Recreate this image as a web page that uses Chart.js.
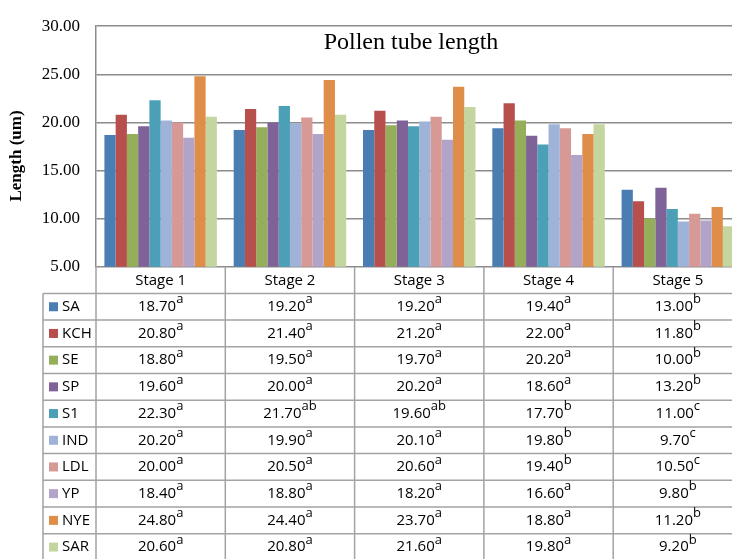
<!DOCTYPE html>
<html lang="en">
  <head>
    <meta charset="UTF-8" />
    <title>Pollen tube length</title>
    <script src="https://cdn.jsdelivr.net/npm/chart.js"></script>
    <style>
      body {
        margin: 0;
        background: #ffffff;
        overflow: hidden;
      }
      .chart-container {
        position: absolute;
        left: 0;
        top: 0;
        width: 760px;
        height: 559px;
      }
    </style>
  </head>
  <body>
    <div class="chart-container">
      <canvas id="pollenChart"></canvas>
    </div>

    <script>
      const stages = ["Stage 1", "Stage 2", "Stage 3", "Stage 4", "Stage 5"];
      const yTicks = [5, 10, 15, 20, 25, 30];

      const SA = [18.7, 19.2, 19.2, 19.4, 13.0];
      const KCH = [20.8, 21.4, 21.2, 22.0, 11.8];
      const SE = [18.8, 19.5, 19.7, 20.2, 10.0];
      const SP = [19.6, 20.0, 20.2, 18.6, 13.2];
      const S1 = [22.3, 21.7, 19.6, 17.7, 11.0];
      const IND = [20.2, 19.9, 20.1, 19.8, 9.7];
      const LDL = [20.0, 20.5, 20.6, 19.4, 10.5];
      const YP = [18.4, 18.8, 18.2, 16.6, 9.8];
      const NYE = [24.8, 24.4, 23.7, 18.8, 11.2];
      const SAR = [20.6, 20.8, 21.6, 19.8, 9.2];

      // significance letters shown as superscripts in the table
      const letSA = ["a", "a", "a", "a", "b"];
      const letKCH = ["a", "a", "a", "a", "b"];
      const letSE = ["a", "a", "a", "a", "b"];
      const letSP = ["a", "a", "a", "a", "b"];
      const letS1 = ["a", "ab", "ab", "b", "c"];
      const letIND = ["a", "a", "a", "b", "c"];
      const letLDL = ["a", "a", "a", "b", "c"];
      const letYP = ["a", "a", "a", "a", "b"];
      const letNYE = ["a", "a", "a", "a", "b"];
      const letSAR = ["a", "a", "a", "a", "b"];

      const seriesNames = ["SA", "KCH", "SE", "SP", "S1", "IND", "LDL", "YP", "NYE", "SAR"];
      const seriesValues = [SA, KCH, SE, SP, S1, IND, LDL, YP, NYE, SAR];
      const seriesLetters = [letSA, letKCH, letSE, letSP, letS1, letIND, letLDL, letYP, letNYE, letSAR];
      const colors = [
        "#4a7eb3", "#b7504d", "#94ae5a", "#7e6298", "#4ba0b8",
        "#9eb3d7", "#d79996", "#b2a4c8", "#de8e48", "#c4d6a0",
      ];

      const tableFont = "15px 'Open Sans', sans-serif";
      const supFont = "13px 'Open Sans', sans-serif";
      const lineColor = "#a3a3a3";
      const rowH = 26.7;

      // title drawn over the plot area, like the original
      const overlayText = {
        id: "overlayText",
        afterDraw(chart) {
          const c = chart.ctx;
          c.save();
          c.fillStyle = "#000";
          c.font = "24px 'Liberation Serif', serif";
          c.textAlign = "center";
          c.textBaseline = "alphabetic";
          c.fillText("Pollen tube length", 411, 49);

          c.translate(17, 156);
          c.rotate(-Math.PI / 2);
          c.font = "bold 17px 'Liberation Serif', serif";
          c.textBaseline = "middle";
          c.fillText("Length (um)", 0, 0);
          c.restore();
        },
      };

      // data table under the category axis
      const dataTable = {
        id: "dataTable",
        afterDraw(chart) {
          const c = chart.ctx;
          const x = chart.scales.x;
          const area = chart.chartArea;
          const colW = (area.right - area.left) / stages.length;
          const top = area.bottom;
          const headBottom = top + rowH;
          const H = chart.height;

          c.save();
          c.strokeStyle = lineColor;
          c.lineWidth = 1.5;

          // vertical lines
          c.beginPath();
          for (let k = 0; k <= stages.length; k++) {
            const lx = area.left + k * colW;
            c.moveTo(lx, top);
            c.lineTo(lx, H);
          }
          c.moveTo(43, headBottom);
          c.lineTo(43, H);
          // horizontal lines
          for (let i = 0; i <= seriesNames.length; i++) {
            const ly = headBottom + i * rowH;
            c.moveTo(43, ly);
            c.lineTo(area.right, ly);
          }
          c.stroke();

          c.textBaseline = "middle";
          seriesNames.forEach((name, i) => {
            const cy = headBottom + i * rowH + rowH / 2;
            c.fillStyle = colors[i];
            c.fillRect(49, cy - 4.5, 9, 9);
            c.fillStyle = "#000";
            c.font = tableFont;
            c.textAlign = "left";
            c.fillText(name, 62, cy);

            seriesValues[i].forEach((v, j) => {
              const cx = x.getPixelForValue(j);
              const main = v.toFixed(2);
              const sup = seriesLetters[i][j];
              c.font = tableFont;
              const w1 = c.measureText(main).width;
              c.font = supFont;
              const w2 = c.measureText(sup).width;
              const sx = cx - (w1 + w2) / 2;
              c.font = tableFont;
              c.fillText(main, sx, cy);
              c.font = supFont;
              c.fillText(sup, sx + w1, cy - 7);
            });
          });
          c.restore();
        },
      };

      const ctx = document.getElementById("pollenChart").getContext("2d");

      new Chart(ctx, {
        type: "bar",
        data: {
          labels: stages,
          datasets: seriesNames.map((name, i) => ({
            label: name,
            data: seriesValues[i],
            backgroundColor: colors[i],
            borderWidth: 0,
            categoryPercentage: 0.87,
            barPercentage: 1.0,
          })),
        },
        options: {
          responsive: true,
          maintainAspectRatio: false,
          animation: false,
          layout: {
            padding: { top: 15, right: 17.5, left: 0, bottom: 0 },
          },
          plugins: {
            legend: { display: false },
            title: { display: false },
            tooltip: { enabled: false },
          },
          scales: {
            x: {
              offset: true,
              grid: { display: false },
              border: { display: false },
              ticks: {
                color: "#000",
                font: { family: "'Open Sans', sans-serif", size: 15 },
                padding: -3,
                maxRotation: 0,
              },
              afterFit(scale) {
                scale.height = 292.3;
              },
            },
            y: {
              min: yTicks[0],
              max: yTicks[yTicks.length - 1],
              afterBuildTicks(scale) {
                scale.ticks = yTicks.map((v) => ({ value: v }));
              },
              grid: {
                color: "#8c8c8c",
                lineWidth: 1.5,
                drawTicks: false,
              },
              border: { color: "#8c8c8c", width: 1.5 },
              ticks: {
                color: "#000",
                padding: 16,
                font: { family: "'Liberation Serif', serif", size: 17 },
                callback: (v) => Number(v).toFixed(2),
              },
              afterFit(scale) {
                scale.width = 96;
              },
            },
          },
        },
        plugins: [overlayText, dataTable],
      });
    </script>
  </body>
</html>
